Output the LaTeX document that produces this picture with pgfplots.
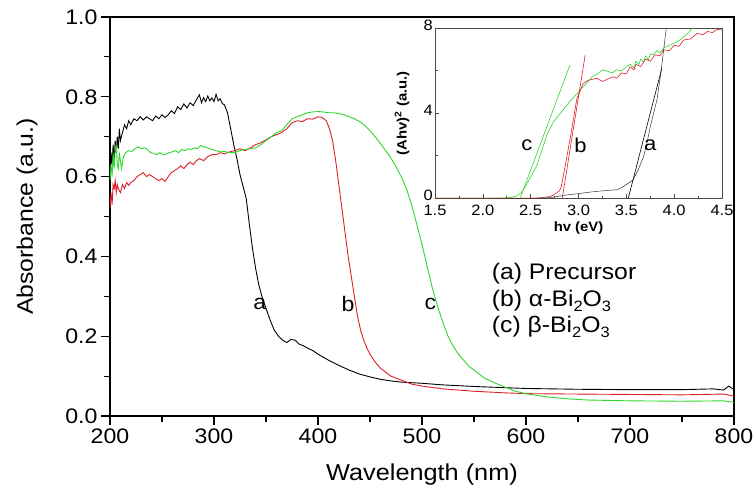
\documentclass[border=0pt]{standalone}
\usepackage{fontspec}
\setmainfont{Liberation Sans}[FakeStretch=1.1]
\usepackage{pgfplots}
\pgfplotsset{compat=1.18}
\definecolor{cred}{RGB}{222,30,40}
\definecolor{cgreen}{RGB}{45,215,45}
\newcommand{\sub}[1]{\raisebox{-5pt}{\fontsize{15}{16}\selectfont #1}}
\begin{document}
\begin{tikzpicture}
\useasboundingbox (-110pt,-76pt) rectangle (644pt,416pt);
\begin{axis}[name=main, scale only axis, width=624pt, height=399pt,
 at={(0,0)}, anchor=south west,
 xmin=200,xmax=800,ymin=0,ymax=1,
 xtick={200,300,400,500,600,700,800}, minor x tick num=1,
 ytick={0,0.2,0.4,0.6,0.8,1.0}, minor y tick num=1,
 tick align=outside, tick pos=left,
 major tick length=9pt, minor tick length=6pt,
 axis line style={line width=1.1pt}, every tick/.style={line width=1.1pt, black},
 /pgf/number format/assume math mode=true,
 yticklabel style={/pgf/number format/fixed,/pgf/number format/fixed zerofill,/pgf/number format/precision=1},
 ticklabel style={font=\fontsize{21}{24}\selectfont},
 xlabel={Wavelength (nm)}, ylabel={Absorbance (a.u.)},
 xlabel style={font=\fontsize{23}{26}\selectfont, at={(axis description cs:0.5,-0.148)}, anchor=center},
 ylabel style={font=\fontsize{22.5}{26}\selectfont, at={(axis description cs:-0.133,0.5)}, anchor=center},
 clip=true]
% (a) precursor
\addplot[black, line width=0.9pt] coordinates {
(200,0.60)(201,0.66)(202,0.63)(203,0.68)(204,0.64)(205,0.69)(206,0.66)(207,0.70)(208,0.67)(209,0.72)(210,0.69)(212,0.71)(214,0.73)(216,0.72)(218,0.74)(220,0.73)(223,0.745)(226,0.74)(229,0.75)(232,0.742)(235,0.75)(238,0.745)(241,0.74)(244,0.752)(247,0.745)(250,0.755)(253,0.748)(256,0.755)(259,0.765)(262,0.758)(265,0.775)(268,0.768)(271,0.782)(274,0.772)(277,0.785)(280,0.778)(283,0.792)(286,0.805)(288,0.785)(290,0.798)(292,0.788)(294,0.802)(296,0.79)(298,0.797)(300,0.788)(302,0.806)(304,0.79)(306,0.795)(308,0.783)(310,0.78)(313,0.76)(316,0.72)(319,0.68)(322,0.645)(325,0.605)(328,0.575)(331,0.545)(334,0.48)(337,0.42)(340,0.37)(343,0.33)(346,0.30)(350,0.27)(354,0.24)(358,0.215)(362,0.20)(366,0.19)(370,0.184)(374,0.192)(378,0.19)(382,0.18)(386,0.176)(390,0.17)(395,0.164)(400,0.155)(410,0.14)(420,0.127)(430,0.115)(440,0.105)(450,0.098)(460,0.092)(470,0.088)(480,0.085)(500,0.082)(520,0.078)(550,0.074)(580,0.071)(600,0.069)(650,0.067)(700,0.066)(750,0.066)(780,0.068)(790,0.065)(795,0.075)(800,0.066)};
% (b) alpha
\addplot[cred, line width=0.9pt] coordinates {
(200,0.52)(201,0.56)(202,0.53)(203,0.58)(204,0.57)(205,0.59)(206,0.56)(207,0.58)(208,0.57)(210,0.56)(212,0.58)(214,0.57)(216,0.585)(218,0.578)(220,0.585)(223,0.59)(226,0.60)(229,0.605)(232,0.61)(235,0.60)(238,0.605)(241,0.60)(244,0.595)(247,0.59)(250,0.595)(253,0.588)(256,0.60)(259,0.61)(262,0.615)(265,0.62)(268,0.627)(271,0.62)(274,0.63)(277,0.636)(280,0.63)(283,0.64)(286,0.645)(290,0.64)(294,0.65)(298,0.655)(302,0.655)(306,0.66)(310,0.657)(315,0.662)(320,0.665)(325,0.67)(330,0.665)(335,0.672)(340,0.68)(345,0.685)(350,0.692)(355,0.70)(360,0.705)(365,0.71)(370,0.72)(375,0.735)(380,0.74)(385,0.738)(390,0.745)(395,0.744)(400,0.75)(404,0.748)(408,0.74)(411,0.72)(414,0.69)(417,0.64)(420,0.58)(423,0.52)(426,0.46)(429,0.40)(432,0.35)(435,0.30)(438,0.25)(441,0.215)(444,0.19)(447,0.17)(450,0.155)(455,0.135)(460,0.12)(465,0.11)(470,0.10)(480,0.09)(490,0.08)(500,0.075)(520,0.068)(550,0.062)(580,0.058)(600,0.056)(650,0.055)(700,0.054)(750,0.053)(790,0.055)(800,0.05)};
% (c) beta
\addplot[cgreen, line width=0.9pt] coordinates {
(200,0.59)(201,0.63)(202,0.60)(203,0.66)(204,0.62)(205,0.67)(206,0.68)(207,0.63)(208,0.62)(209,0.66)(210,0.64)(211,0.62)(213,0.65)(215,0.66)(218,0.665)(221,0.663)(224,0.67)(227,0.675)(230,0.67)(233,0.672)(236,0.668)(239,0.66)(242,0.658)(245,0.655)(248,0.66)(251,0.655)(254,0.656)(257,0.66)(260,0.662)(263,0.665)(266,0.66)(269,0.668)(272,0.665)(275,0.67)(278,0.668)(281,0.672)(284,0.67)(287,0.678)(290,0.675)(294,0.672)(298,0.668)(302,0.665)(306,0.662)(310,0.663)(315,0.66)(320,0.66)(325,0.665)(330,0.668)(335,0.67)(340,0.672)(345,0.68)(350,0.69)(355,0.70)(360,0.71)(365,0.715)(370,0.73)(375,0.745)(380,0.75)(385,0.755)(390,0.76)(395,0.762)(400,0.763)(405,0.762)(410,0.76)(415,0.76)(420,0.758)(425,0.755)(430,0.75)(435,0.745)(440,0.738)(445,0.728)(450,0.715)(455,0.70)(460,0.683)(465,0.665)(470,0.647)(475,0.625)(480,0.60)(485,0.57)(490,0.53)(495,0.48)(500,0.43)(505,0.375)(510,0.32)(515,0.275)(520,0.235)(525,0.20)(530,0.175)(535,0.155)(540,0.14)(545,0.125)(550,0.115)(555,0.105)(560,0.095)(570,0.083)(580,0.072)(590,0.062)(600,0.056)(620,0.048)(640,0.043)(660,0.040)(700,0.038)(750,0.037)(790,0.038)(800,0.034)};
\node[font=\fontsize{21}{24}\selectfont] at (axis cs:344,0.281) {a};
\node[font=\fontsize{21}{24}\selectfont] at (axis cs:429,0.281) {b};
\node[font=\fontsize{21}{24}\selectfont] at (axis cs:508,0.281) {c};
\node[font=\fontsize{22.5}{24}\selectfont, anchor=base west, inner sep=0pt] at (axis cs:567,0.341) {(a) Precursor};
\node[font=\fontsize{22.5}{24}\selectfont, anchor=base west, inner sep=0pt] at (axis cs:567,0.275) {(b) α-Bi\sub{2}O\sub{3}};
\node[font=\fontsize{22.5}{24}\selectfont, anchor=base west, inner sep=0pt] at (axis cs:567,0.210) {(c) β-Bi\sub{2}O\sub{3}};
\end{axis}
\begin{axis}[scale only axis, width=287pt, height=170pt,
 at={(325pt,217.7pt)}, anchor=south west,
 xmin=1.5,xmax=4.5,ymin=0,ymax=8,
 xtick={1.5,2.0,2.5,3.0,3.5,4.0,4.5}, ytick={0,4,8},
 minor x tick num=1, minor y tick num=1,
 tick align=inside, tick pos=left,
 major tick length=4pt, minor tick length=2.5pt,
 axis line style={line width=0.6pt, black!70},
 every tick/.style={line width=0.6pt, black!70},
 /pgf/number format/assume math mode=true,
 xticklabel style={/pgf/number format/fixed,/pgf/number format/fixed zerofill,/pgf/number format/precision=1, inner sep=0.5pt, yshift=-6pt},
 yticklabel style={inner sep=1pt, yshift=3pt, xshift=-1pt},
 ticklabel style={font=\fontsize{15}{17}\selectfont},
 xlabel={\textbf{hv (eV)}}, ylabel={\textbf{(Ahv)\textsuperscript{2} (a.u.)}},
 xlabel style={font=\fontsize{13.5}{15}\selectfont, at={(axis description cs:0.5,-0.175)}, anchor=center},
 ylabel style={font=\fontsize{13.5}{15}\selectfont, at={(axis description cs:-0.115,0.5)}, anchor=center},
 clip=true]
\addplot[cgreen, line width=0.6pt] coordinates {
(1.5,0)(2.0,0)(2.2,0.01)(2.3,0.04)(2.35,0.1)(2.4,0.25)(2.45,0.6)(2.5,1.0)(2.56,1.5)(2.62,2.3)(2.67,3.0)(2.74,3.6)(2.81,4.0)(2.9,4.5)(3.02,5.1)(3.1,5.5)(3.15,5.75)(3.2,5.85)(3.25,6.05)(3.29,6.0)(3.35,5.9)(3.4,6.05)(3.45,6.0)(3.5,6.2)(3.54,6.3)(3.58,6.15)(3.6,6.45)(3.63,6.3)(3.65,6.55)(3.68,6.4)(3.7,6.7)(3.73,6.5)(3.75,6.8)(3.78,6.75)(3.82,6.95)(3.85,6.85)(3.9,7.1)(3.95,7.2)(4.0,7.3)(4.06,7.45)(4.1,7.6)(4.15,7.8)(4.2,8.05)};
\addplot[cred, line width=0.6pt] coordinates {
(1.5,0)(2.5,0)(2.6,0.02)(2.7,0.08)(2.74,0.16)(2.8,0.35)(2.82,0.55)(2.86,1.5)(2.91,2.74)(2.95,3.8)(2.98,4.63)(3.02,5.1)(3.05,5.41)(3.1,5.55)(3.19,5.65)(3.25,5.5)(3.3,5.6)(3.36,5.72)(3.4,5.65)(3.45,5.9)(3.5,5.85)(3.54,6.19)(3.58,6.05)(3.6,6.3)(3.65,6.2)(3.7,6.55)(3.75,6.45)(3.8,6.75)(3.85,6.7)(3.89,6.98)(3.95,6.95)(4.0,7.2)(4.05,7.15)(4.1,7.45)(4.17,7.5)(4.24,7.76)(4.3,7.7)(4.35,7.85)(4.4,7.8)(4.45,7.95)(4.5,7.92)};
\addplot[black!80, line width=0.5pt] coordinates {
(1.5,0)(2.5,0)(2.7,0.03)(2.8,0.1)(2.88,0.16)(3.0,0.22)(3.1,0.28)(3.2,0.33)(3.3,0.37)(3.4,0.4)(3.45,0.5)(3.5,0.65)(3.57,0.86)(3.62,1.3)(3.68,1.96)(3.72,2.7)(3.75,3.37)(3.79,4.1)(3.82,4.63)(3.86,5.9)(3.89,6.98)(3.92,8.1)};
\addplot[cgreen, line width=0.6pt] coordinates {(2.39,0)(2.91,6.27)};
\addplot[cred, line width=0.6pt] coordinates {(2.83,0)(3.07,6.75)};
\addplot[black, line width=0.6pt] coordinates {(3.52,0)(3.87,6.1)};
\node[font=\fontsize{20}{22}\selectfont] at (axis cs:2.46,2.5) {c};
\node[font=\fontsize{20}{22}\selectfont] at (axis cs:3.02,2.5) {b};
\node[font=\fontsize{20}{22}\selectfont] at (axis cs:3.75,2.5) {a};
\end{axis}
\end{tikzpicture}
\end{document}
